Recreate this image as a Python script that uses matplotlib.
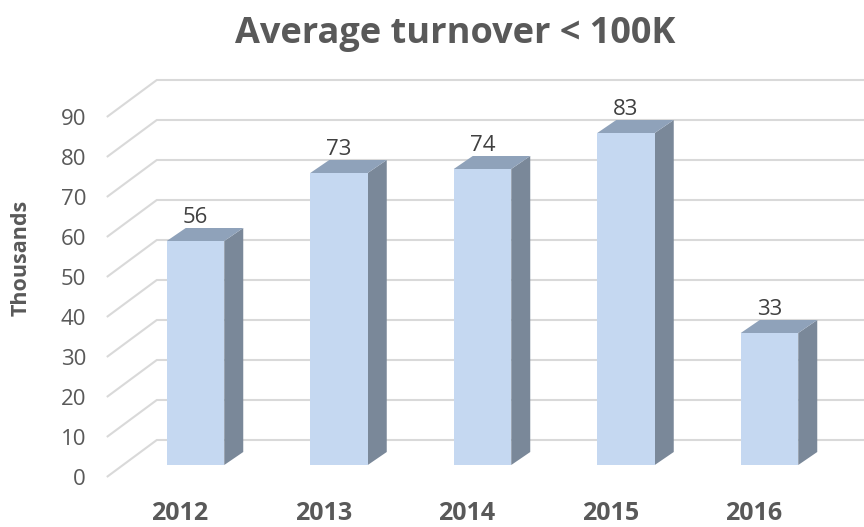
import matplotlib.pyplot as plt
from matplotlib.patches import Rectangle, Polygon

years = ['2012', '2013', '2014', '2015', '2016']
turnover = [56, 73, 74, 83, 33]
ticks = [0, 10, 20, 30, 40, 50, 60, 70, 80, 90]

plt.rcParams['font.family'] = ['Open Sans', 'DejaVu Sans']

# pixel layout of the fake 3D frame (bar plane: 0 at y=465, 4 px per unit, 143.5 px per category)
W, H = 864, 527
x0_px, cat_px = 195.5, 143.5
y0_px, unit_px = 465, 4.0

def cx(px):
    return px / cat_px

def cy(px):
    return px / unit_px

fig = plt.figure(figsize=(W / 100, H / 100), dpi=100)
ax = fig.add_axes([0, 0, 1, 1])
ax.set_xlim(-x0_px / cat_px, (W - x0_px) / cat_px)
ax.set_ylim((y0_px - H) / unit_px, y0_px / unit_px)
ax.axis('off')

# depth offsets
back_dx, back_dy = cx(33.8), cy(25)
front_dx, front_dy = cx(-16.2), cy(-12)
bar_dx, bar_dy = cx(19), cy(13)
wall_left = cx(123 - x0_px)
bar_w = cx(57.5)

grid_c = '#d9d9d9'
for v in ticks:
    xs = [wall_left + front_dx, wall_left + back_dx, ax.get_xlim()[1]]
    ys = [v + front_dy, v + back_dy, v + back_dy]
    ax.plot(xs, ys, color=grid_c, lw=1.5, zorder=1, solid_capstyle='butt')
    ax.text(cx(86 - x0_px), v - 5, str(v), ha='right', va='baseline',
            fontsize=16, color='#595959')

front_c, top_c, side_c = '#c5d8f1', '#8fa2ba', '#7a8899'
for i, (yr, val) in enumerate(zip(years, turnover)):
    l, r = i - bar_w / 2, i + bar_w / 2
    ax.add_patch(Polygon([(r, 0), (r + bar_dx, bar_dy), (r + bar_dx, val + bar_dy), (r, val)],
                         closed=True, fc=side_c, ec='none', zorder=3))
    ax.add_patch(Polygon([(l, val), (r, val), (r + bar_dx, val + bar_dy), (l + bar_dx, val + bar_dy)],
                         closed=True, fc=top_c, ec='none', zorder=3))
    ax.add_patch(Rectangle((l, 0), bar_w, val, fc=front_c, ec='none', zorder=4))
    ax.text(i, val + 4.5, str(val), ha='center', va='baseline', fontsize=16,
            color='#404040', zorder=5)
    ax.text(i + cx(-15.5), cy(y0_px - 520), yr, ha='center', va='baseline',
            fontsize=18, fontweight='bold', color='#595959')

fig.text(455 / W, 1 - 43 / H, 'Average turnover < 100K', ha='center', va='baseline',
         fontsize=26, fontweight='bold', color='#595959')
fig.text(21 / W, 1 - 258 / H, 'Thousands', ha='center', va='center', rotation=90,
         fontsize=15.5, fontweight='bold', color='#595959')

fig.savefig('out.png', dpi=100)
